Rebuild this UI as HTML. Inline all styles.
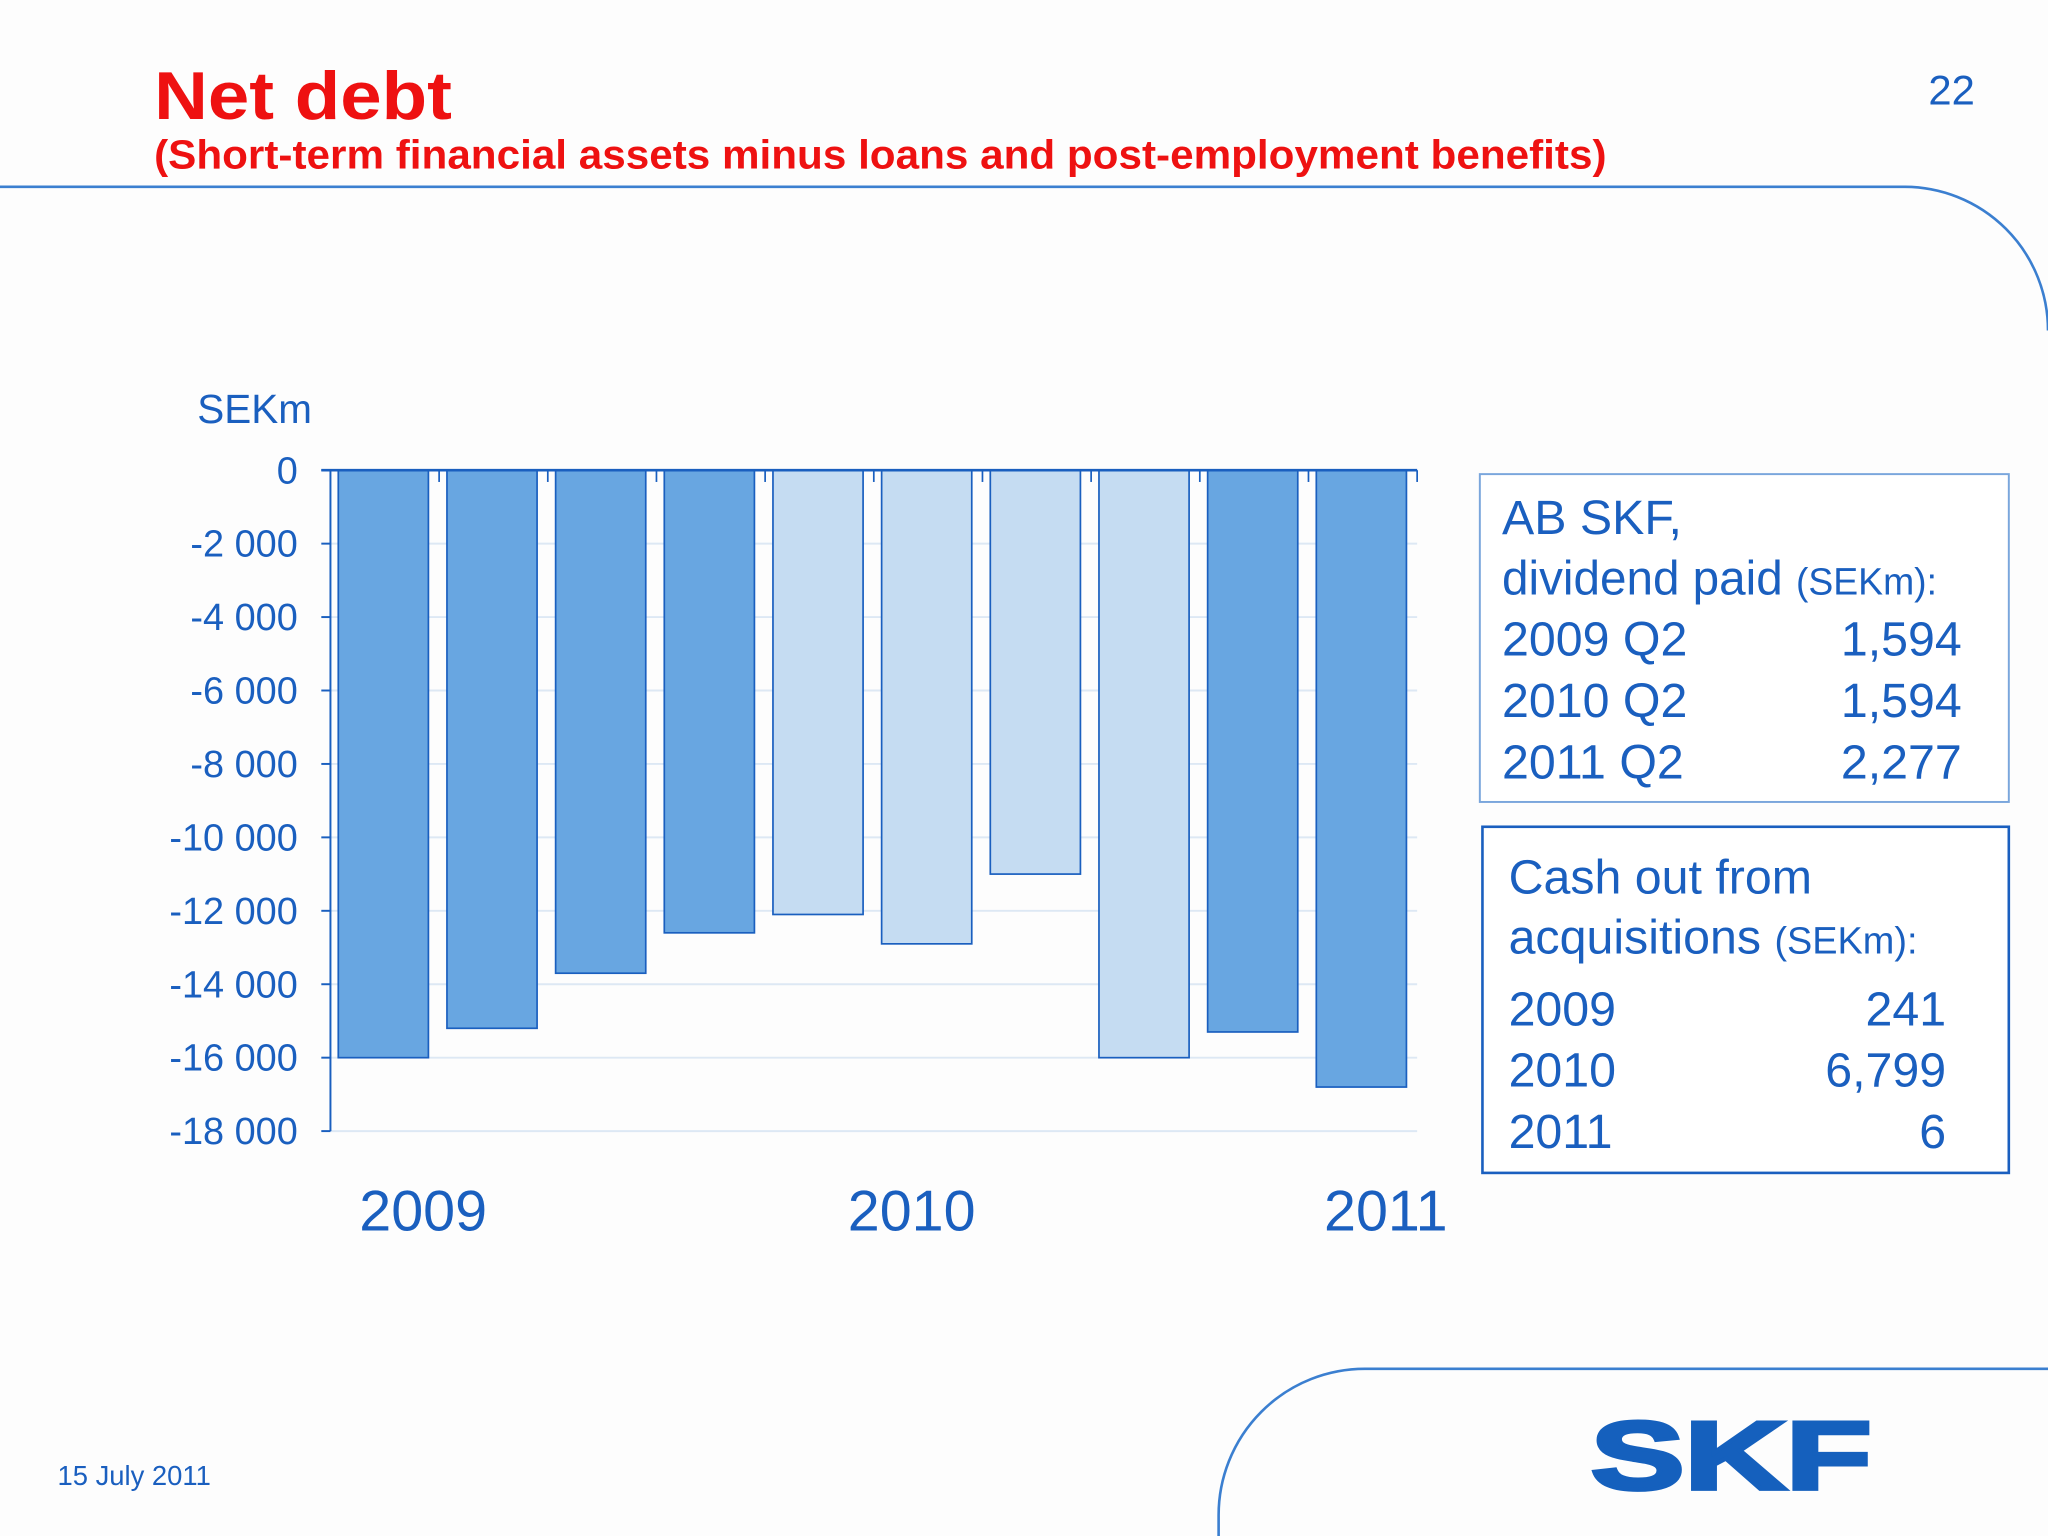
<!DOCTYPE html>
<html><head><meta charset="utf-8"><style>
html,body{margin:0;padding:0;background:#fff;}
svg{display:block;}
text{font-family:"Liberation Sans","DejaVu Sans",sans-serif;}
</style></head><body>
<svg id="s" width="2048" height="1536" viewBox="0 0 1568 1176" xmlns="http://www.w3.org/2000/svg">
<rect width="1568" height="1176" fill="#fdfdfd"/>
<text x="118" y="91" font-size="52" font-weight="bold" fill="#ee1111" textLength="228" lengthAdjust="spacingAndGlyphs">Net debt</text>
<text x="118" y="129" font-size="31" font-weight="bold" fill="#ee1111" textLength="1112" lengthAdjust="spacingAndGlyphs">(Short-term financial assets minus loans and post-employment benefits)</text>
<text x="1512" y="80" font-size="32" fill="#1a5fbf" text-anchor="end">22</text>
<path d="M0 143 H1458 A110 110 0 0 1 1568 253" fill="none" stroke="#3b7fd0" stroke-width="2"/>
<path d="M933 1176 V1160 A112 112 0 0 1 1045 1048 H1568" fill="none" stroke="#3b7fd0" stroke-width="2"/>
<text x="44" y="1137" font-size="21" fill="#1a5fbf">15 July 2011</text>
<text x="1218" y="1140" font-size="74" font-weight="900" fill="#1560bd" stroke="#1560bd" stroke-width="3" textLength="215" lengthAdjust="spacingAndGlyphs">SKF</text>
<text x="151" y="324" font-size="31" fill="#1a5fbf">SEKm</text>
<g id="chart"></g>
<text x="324" y="942" font-size="44" fill="#1a5fbf" text-anchor="middle">2009</text>
<text x="698" y="942" font-size="44" fill="#1a5fbf" text-anchor="middle">2010</text>
<text x="1061" y="942" font-size="44" fill="#1a5fbf" text-anchor="middle">2011</text>
<g>
<rect x="1133" y="363" width="405" height="251" fill="#fff" stroke="#7aa6dc" stroke-width="1.5"/>
<text x="1150" y="409" font-size="37" fill="#1a5fbf">AB SKF,</text>
<text x="1150" y="455" font-size="37" fill="#1a5fbf" textLength="333" lengthAdjust="spacingAndGlyphs">dividend paid <tspan font-size="29">(SEKm):</tspan></text>
<text x="1150" y="502" font-size="37" fill="#1a5fbf">2009 Q2</text><text x="1502" y="502" font-size="37" fill="#1a5fbf" text-anchor="end">1,594</text>
<text x="1150" y="549" font-size="37" fill="#1a5fbf">2010 Q2</text><text x="1502" y="549" font-size="37" fill="#1a5fbf" text-anchor="end">1,594</text>
<text x="1150" y="596" font-size="37" fill="#1a5fbf">2011 Q2</text><text x="1502" y="596" font-size="37" fill="#1a5fbf" text-anchor="end">2,277</text>
</g>
<g>
<rect x="1135" y="633" width="403" height="265" fill="#fff" stroke="#1a5fbf" stroke-width="2"/>
<text x="1155" y="684" font-size="37" fill="#1a5fbf">Cash out from</text>
<text x="1155" y="730" font-size="37" fill="#1a5fbf">acquisitions <tspan font-size="29">(SEKm):</tspan></text>
<text x="1155" y="785" font-size="37" fill="#1a5fbf">2009</text><text x="1490" y="785" font-size="37" fill="#1a5fbf" text-anchor="end">241</text>
<text x="1155" y="832" font-size="37" fill="#1a5fbf">2010</text><text x="1490" y="832" font-size="37" fill="#1a5fbf" text-anchor="end">6,799</text>
<text x="1155" y="879" font-size="37" fill="#1a5fbf">2011</text><text x="1490" y="879" font-size="37" fill="#1a5fbf" text-anchor="end">6</text>
</g>
</svg>
<script>
const quarters=["2009Q1","2009Q2","2009Q3","2009Q4","2010Q1","2010Q2","2010Q3","2010Q4","2011Q1","2011Q2"];
const netDebt=[-16000,-15200,-13700,-12600,-12100,-12900,-11000,-16000,-15300,-16800];
const shade=["d","d","d","d","l","l","l","l","d","d"];
const yTicks=[0,-2000,-4000,-6000,-8000,-10000,-12000,-14000,-16000,-18000];
const yTickLabels=["0","-2 000","-4 000","-6 000","-8 000","-10 000","-12 000","-14 000","-16 000","-18 000"];
const NS="http://www.w3.org/2000/svg";
const g=document.getElementById('chart');
const x0=253,x1=1085,y0=360,y1=866;
const y=v=>y0+(0-v)/18000*(y1-y0);
const slot=(x1-x0)/quarters.length;
const xs=i=>x0+i*slot;
function mk(t,a){const e=document.createElementNS(NS,t);for(const k in a)e.setAttribute(k,a[k]);g.appendChild(e);return e;}
yTicks.forEach((v,i)=>{
  if(v!==0){const l=mk('line',{x1:x0,x2:x1,y1:y(v),y2:y(v),stroke:'#dde8f4','stroke-width':1.5});
  
  }
  const t=mk('line',{x1:x0-7,x2:x0,y1:y(v),y2:y(v),stroke:'#1a5fbf','stroke-width':1.5});
  
  
  const tx=mk('text',{x:228,y:y(v)+10,'font-size':29,fill:'#1a5fbf','text-anchor':'end'});
  tx.textContent=yTickLabels[i];
  
  
});
netDebt.forEach((v,i)=>{
  const r=mk('rect',{x:xs(i)+6,y:y(0),width:69,height:y(v)-y(0),fill:shade[i]==='d'?'#68a6e1':'#c5dcf2',stroke:'#1a5fbf','stroke-width':1.3});
  
  
});
for(let i=1;i<=quarters.length;i++){
  const t=mk('line',{x1:xs(i),x2:xs(i),y1:y0,y2:y0+9,stroke:'#1a5fbf','stroke-width':1.3});
  
  
}
const ya=mk('line',{x1:x0,x2:x0,y1:y0,y2:y1,stroke:'#1a5fbf','stroke-width':1.5});


const za=mk('line',{x1:x0-7,x2:x1,y1:y0,y2:y0,stroke:'#1a5fbf','stroke-width':2});


</script>
</body></html>
